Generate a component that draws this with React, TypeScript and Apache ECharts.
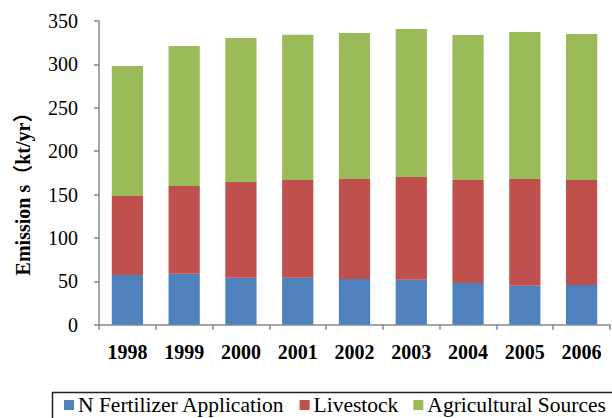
import React, { useEffect, useRef } from "react";
import * as echarts from "echarts";

const years = ["1998", "1999", "2000", "2001", "2002", "2003", "2004", "2005", "2006"];
const fertilizer = [57.3, 58.8, 54.2, 54.2, 52.7, 51.9, 48.1, 45.0, 45.8];
const livestock = [91.0, 101.1, 110.3, 112.6, 115.2, 118.3, 118.7, 122.9, 121.0];
const agricultural = [149.8, 161.3, 165.9, 167.4, 168.3, 170.6, 167.1, 169.4, 168.2];
const seriesNames = ["N Fertilizer Application", "Livestock", "Agricultural Sources"];
const colors = ["#4F81BD", "#C0504D", "#9BBB59"];
const yTitle = "Emission s（kt/yr）";

const serif = "Liberation Serif";

export default function App() {
  const ref = useRef<HTMLDivElement>(null);
  useEffect(() => {
    if (!ref.current) return;
    const chart = echarts.init(ref.current, undefined, { renderer: "svg" });
    const dataSets = [fertilizer, livestock, agricultural];
    chart.setOption({
      animation: false,
      textStyle: { fontFamily: serif },
      grid: { left: 99, right: 2, top: 21, bottom: 93.3, containLabel: false },
      xAxis: {
        type: "category",
        data: years,
        boundaryGap: true,
        axisLine: { show: true, lineStyle: { color: "#898989", width: 1.5 } },
        axisTick: { show: true, length: 5, alignWithLabel: false, lineStyle: { color: "#898989", width: 1.5 } },
        axisLabel: { color: "#000", fontFamily: serif, fontSize: 20, fontWeight: "bold", margin: 17 },
      },
      yAxis: {
        type: "value",
        min: 0,
        max: 350,
        interval: 50,
        splitLine: { show: false },
        axisLine: { show: true, lineStyle: { color: "#898989", width: 1.5 } },
        axisTick: { show: true, length: 5, inside: false, lineStyle: { color: "#898989", width: 1.5 } },
        axisLabel: { color: "#000", fontFamily: serif, fontSize: 20, margin: 21 },
      },
      legend: {
        left: 64,
        top: 394,
        itemWidth: 10,
        itemHeight: 10,
        itemGap: 15,
        icon: "rect",
        padding: 0,
        textStyle: { color: "#000", fontFamily: serif, fontSize: 21.5, padding: [0, 0, 0, -1] },
        data: seriesNames,
      },
      graphic: [
        {
          type: "rect",
          left: 50,
          top: 390,
          shape: { x: 0, y: 0, width: 600, height: 60 },
          style: { fill: "none", stroke: "#222", lineWidth: 1.5 },
          silent: true,
        },
        {
          type: "text",
          x: 23,
          y: 189,
          rotation: Math.PI / 2,
          style: {
            text: yTitle,
            font: `bold 20px 'Liberation Serif', 'Noto Sans CJK SC', serif`,
            fill: "#000",
            align: "center",
            verticalAlign: "middle",
          },
        },
      ],
      series: seriesNames.map((name, i) => ({
        name,
        type: "bar",
        stack: "total",
        barWidth: "55%",
        data: dataSets[i],
        itemStyle: { color: colors[i] },
      })),
    });
    return () => chart.dispose();
  }, []);
  return (
    <div
      ref={ref}
      style={{ position: "fixed", left: 0, top: 0, width: 612, height: 418, background: "#fff" }}
    />
  );
}
